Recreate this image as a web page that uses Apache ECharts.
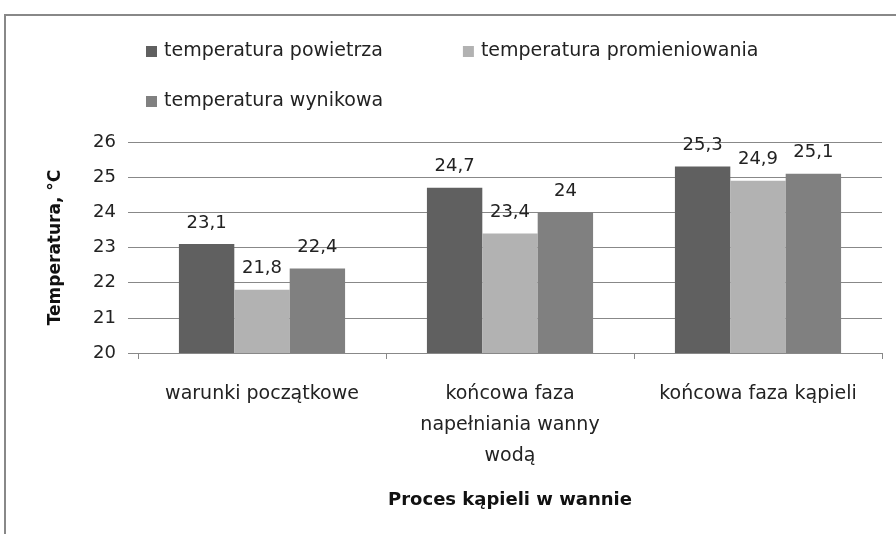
<!DOCTYPE html>
<html>
<head>
<meta charset="utf-8">
<script src="https://cdn.jsdelivr.net/npm/echarts@6/dist/echarts.min.js"></script>
<style>
  html, body { margin: 0; padding: 0; background: #fff; }
  #chart { width: 896px; height: 534px; }
</style>
</head>
<body>
<div id="chart"></div>
<script>
// categories and series
var categories = ['warunki początkowe', 'końcowa faza\nnapełniania wanny\nwodą', 'końcowa faza kąpieli'];
var seriesNames = ['temperatura powietrza', 'temperatura promieniowania', 'temperatura wynikowa'];
var airTemp = [23.1, 24.7, 25.3];
var radiantTemp = [21.8, 23.4, 24.9];
var resultTemp = [22.4, 24.0, 25.1];
var colors = ['#606060', '#b2b2b2', '#808080'];

var font = 'DejaVu Sans';

function fmt(p) {
  return String(p.value).replace('.', ',');
}

function bar(name, data, color) {
  return {
    name: name,
    type: 'bar',
    data: data,
    barGap: 0,
    barCategoryGap: '33%',
    itemStyle: { color: color },
    label: {
      show: true,
      position: 'top',
      distance: 12,
      formatter: fmt,
      color: '#222',
      fontFamily: font,
      fontSize: 18
    }
  };
}

var chart = echarts.init(document.getElementById('chart'));
chart.setOption({
  animation: false,
  color: colors,
  legend: [
    {
      data: [seriesNames[0], seriesNames[1]],
      left: 141, top: 37,
      icon: 'rect', itemWidth: 11, itemHeight: 11,
      itemGap: 80,
      textStyle: { fontFamily: font, fontSize: 19, color: '#222', padding: [0, 0, 0, 2] }
    },
    {
      data: [seriesNames[2]],
      left: 141, top: 87,
      icon: 'rect', itemWidth: 11, itemHeight: 11,
      textStyle: { fontFamily: font, fontSize: 19, color: '#222', padding: [0, 0, 0, 2] }
    }
  ],
  grid: { left: 138, right: 14, top: 142, bottom: 181 },
  xAxis: {
    type: 'category',
    data: categories,
    name: 'Proces kąpieli w wannie',
    nameLocation: 'middle',
    nameGap: 138,
    nameTextStyle: { fontFamily: font, fontWeight: 'bold', fontSize: 18, color: '#111' },
    axisLine: { lineStyle: { color: '#888', width: 1 } },
    axisTick: { show: true, length: 6, lineStyle: { color: '#888' } },
    axisLabel: { interval: 0, margin: 26, fontFamily: font, fontSize: 19, color: '#222', lineHeight: 31 }
  },
  yAxis: {
    type: 'value',
    min: 20, max: 26, interval: 1,
    name: 'Temperatura, °C',
    nameLocation: 'middle',
    nameGap: 74,
    nameTextStyle: { fontFamily: font, fontWeight: 'bold', fontSize: 17, color: '#111' },
    axisLine: { show: false },
    axisTick: { show: true, length: 10, lineStyle: { color: '#888' } },
    axisLabel: { margin: 22, fontFamily: font, fontSize: 18, color: '#222' },
    splitLine: { lineStyle: { color: '#888', width: 1 } }
  },
  graphic: [{
    type: 'polyline',
    shape: { points: [[5, 534], [5, 15], [896, 15]] },
    style: { stroke: '#888', lineWidth: 2, fill: null }
  }],
  series: [
    bar(seriesNames[0], airTemp, colors[0]),
    bar(seriesNames[1], radiantTemp, colors[1]),
    bar(seriesNames[2], resultTemp, colors[2])
  ]
});
</script>
</body>
</html>
